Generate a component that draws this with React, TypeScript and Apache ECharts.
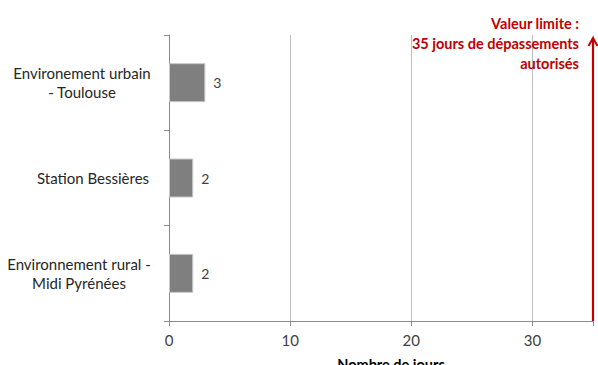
import React, { useEffect, useRef } from "react";
import * as echarts from "echarts";

const categories = [
  ["Environement urbain", "- Toulouse"],
  ["Station Bessières"],
  ["Environnement rural -", "Midi Pyrénées"],
];
const days = [3, 2, 2];
const limitValue = 35;
const limitText = ["Valeur limite :", "35 jours de dépassements", "autorisés"];
const xTicks = [0, 10, 20, 30];

const FONT = "Lato, 'Open Sans', sans-serif";
const RED = "#c00000";

export default function App() {
  const ref = useRef<HTMLDivElement>(null);

  useEffect(() => {
    if (!ref.current) return;
    const chart = echarts.init(ref.current, undefined, { renderer: "svg" });
    const labelKeys = ["c0", "c1", "c2"];
    const labelWidths = [142, 120, 148];
    const rich: Record<string, any> = {};
    labelKeys.forEach((k, i) => {
      rich[k] = {
        width: labelWidths[i],
        align: "center",
        fontFamily: FONT,
        fontSize: 15,
        color: "#262626",
        lineHeight: 19,
      };
    });
    chart.setOption({
      animation: false,
      backgroundColor: "#ffffff",
      textStyle: { fontFamily: FONT },
      grid: {
        left: 169,
        right: 5,
        top: 35,
        bottom: 44,
        containLabel: false,
        outerBoundsMode: "none",
      },
      xAxis: {
        type: "value",
        min: 0,
        max: limitValue,
        interval: 10,
        name: "Nombre de jours",
        nameLocation: "middle",
        nameGap: 36,
        nameTextStyle: {
          fontFamily: FONT,
          fontSize: 14.5,
          fontWeight: "bold",
          color: "#000",
          padding: [0, 0, 0, 20],
        },
        axisLine: { show: true, lineStyle: { color: "#8c8c8c", width: 1 } },
        axisTick: { show: true, length: 5, lineStyle: { color: "#8c8c8c" } },
        axisLabel: {
          fontFamily: FONT,
          fontSize: 15,
          color: "#404040",
          margin: 11,
          formatter: (v: number) => (xTicks.includes(v) ? String(v) : ""),
        },
        splitLine: { show: true, lineStyle: { color: "#bfbfbf", width: 1 } },
      },
      yAxis: [
        {
          type: "category",
          data: categories.map((c) => c.join("\n")),
          inverse: true,
          axisLine: { show: true, lineStyle: { color: "#8c8c8c", width: 1 } },
          axisTick: { show: true, length: 5, inside: false, lineStyle: { color: "#8c8c8c" } },
          axisLabel: {
            margin: 16,
            align: "right",
            formatter: (_v: string, idx: number) =>
              categories[idx].map((line) => `{${labelKeys[idx]}|${line}}`).join("\n"),
            rich,
          },
          splitLine: { show: false },
        },
        {
          // helper axis spanning the plot height, used to place the limit arrow
          type: "value",
          min: 0,
          max: 1,
          show: false,
        },
      ],
      series: [
        {
          type: "bar",
          data: days,
          barWidth: 39,
          itemStyle: { color: "#7f7f7f", borderColor: "#c8c8c8", borderWidth: 1 },
          label: {
            show: true,
            position: "right",
            distance: 8,
            fontFamily: FONT,
            fontSize: 14,
            color: "#404040",
          },
        },
        {
          type: "scatter",
          yAxisIndex: 1,
          data: [[limitValue, 0]],
          symbolSize: 0,
          silent: true,
        },
      ],
    });

    // limit arrow at 35 days, positioned through the axes' scales
    const x = chart.convertToPixel({ xAxisIndex: 0 }, limitValue) as number;
    const yBottom = chart.convertToPixel({ yAxisIndex: 1 }, 0) as number;
    const yTop = (chart.convertToPixel({ yAxisIndex: 1 }, 1) as number) + 3;
    chart.setOption({
      graphic: [
        {
          type: "line",
          shape: { x1: x, y1: yBottom, x2: x, y2: yTop },
          style: { stroke: RED, lineWidth: 2.2 },
          silent: true,
        },
        {
          type: "polyline",
          shape: { points: [[x - 4.5, yTop + 8], [x, yTop], [x + 4.5, yTop + 8]] },
          style: { stroke: RED, lineWidth: 2, fill: "none" },
          silent: true,
        },
        {
          type: "text",
          x: 579,
          y: 13,
          style: {
            text: limitText.join("\n"),
            fontFamily: FONT,
            fontSize: 14.5,
            fontWeight: "bold",
            fill: RED,
            align: "right",
            verticalAlign: "top",
            lineHeight: 20,
          },
        },
      ],
    });
    return () => chart.dispose();
  }, []);

  return (
    <div
      ref={ref}
      style={{ position: "fixed", left: 0, top: 0, width: 598, height: 365 }}
    />
  );
}
